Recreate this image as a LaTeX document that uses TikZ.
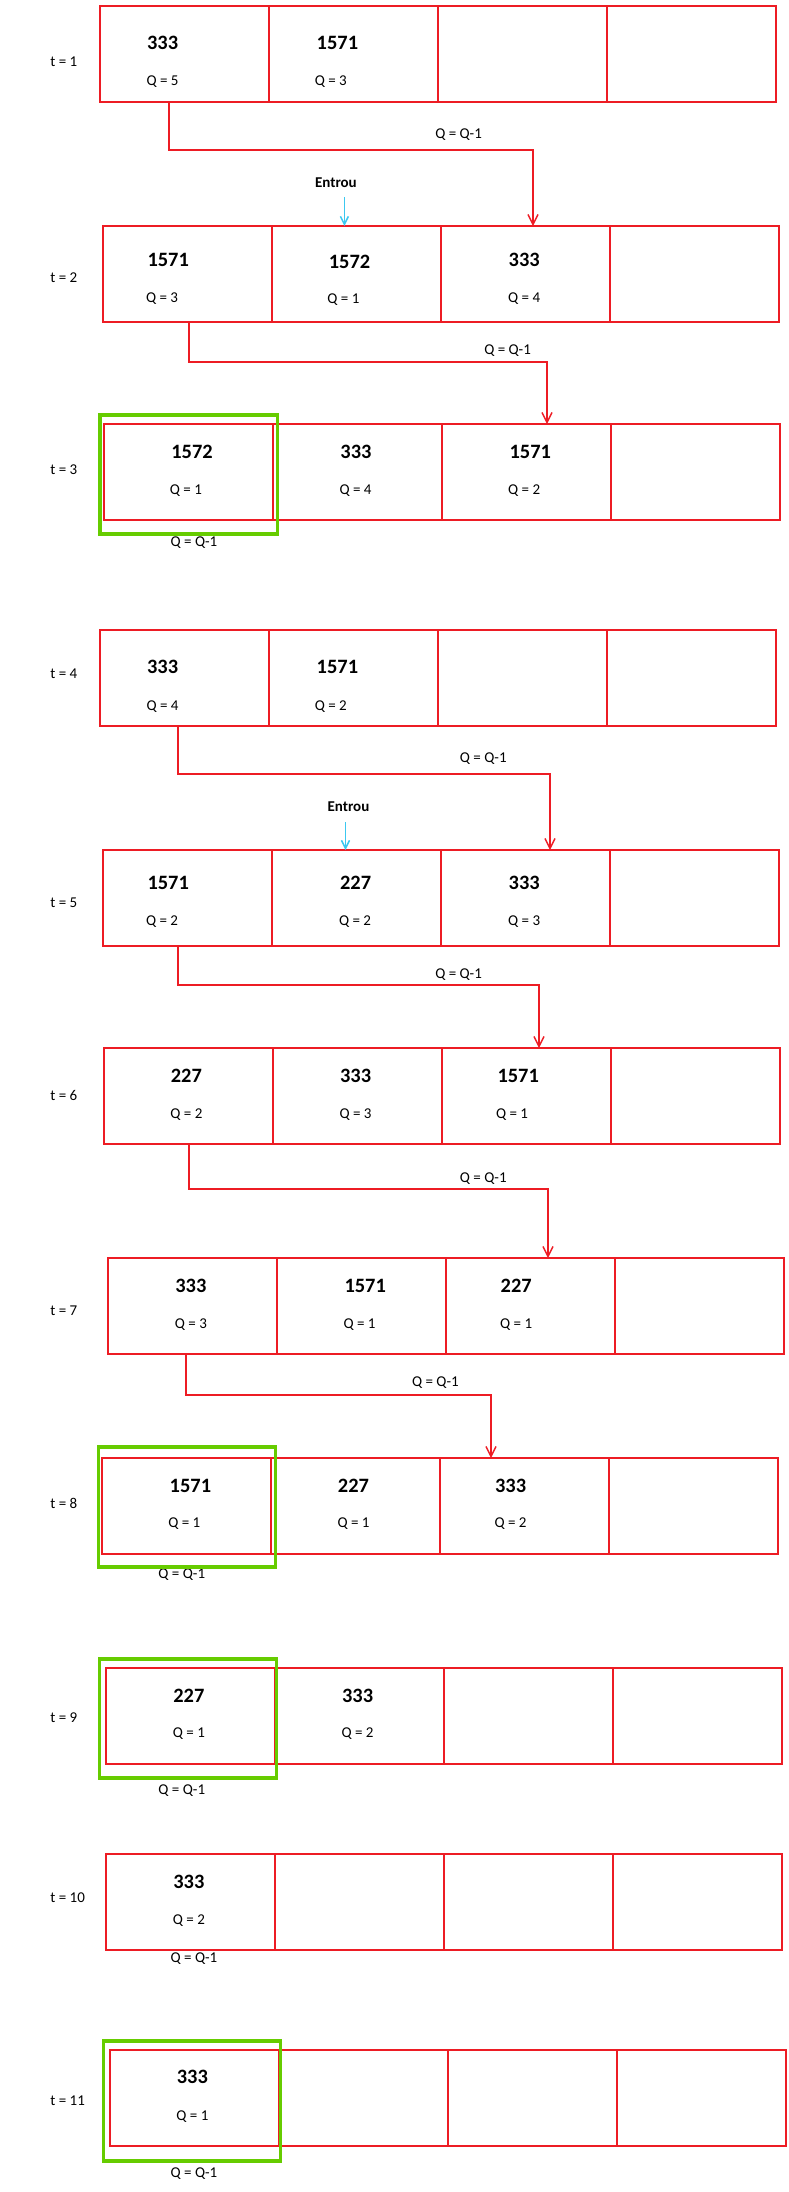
\documentclass[tikz,border=0pt]{standalone}
\usepackage{fontspec}
\setmainfont{Carlito}
\usepackage{tikz}
\usetikzlibrary{calc,arrows.meta}
\definecolor{vermelho}{RGB}{237,28,36}
\definecolor{verde}{RGB}{102,204,0}
\definecolor{azul}{RGB}{60,200,240}

\begin{document}
\begin{tikzpicture}[x=0.5pt,y=-0.5pt,
    celula/.style={draw=vermelho,line width=0.9pt,minimum width=84.5pt,minimum height=48pt,inner sep=0pt,outer sep=0pt},
    num/.style={font=\fontsize{10.2}{12}\selectfont\bfseries,inner sep=0pt},
    qval/.style={font=\fontsize{7.5}{9}\selectfont,inner sep=0pt},
    rotulo/.style={font=\fontsize{7.5}{9}\selectfont,inner sep=0pt,anchor=west},
    entrou/.style={font=\fontsize{7.5}{9}\selectfont\bfseries,inner sep=0pt},
    seta/.style={draw=vermelho,line width=0.7pt,-{Straight Barb[length=5pt,width=5pt]}},
    entra/.style={draw=azul,line width=0.75pt,-{Straight Barb[length=4pt,width=4pt]}},
    destaque/.style={draw=verde,line width=1.6pt}]
  \useasboundingbox (0,0) rectangle (788,2192);
  % filas: t, canto esquerdo, topo, altura do rotulo
  \foreach \l/\x/\y/\ty in {1/100/6/62, 2/103/226/278, 3/104/424/470, 4/100/630/674,
      5/103/850/903, 6/104/1048/1095, 7/108/1258/1311, 8/102/1458/1503,
      9/106/1668/1718, 10/106/1854/1898, 11/110/2050/2101}{
    \node[rotulo](t\l)at(50,\ty){t = \l};
    \foreach \c in {1,...,4}
      \node[celula](l\l-\c)at({\x+84.5+169*(\c-1)},{\y+48}){};
  }
  % processos
  \foreach \n/\x/\y/\v in {n1a/162.6/43/333, n1b/337.4/43/1571,
      n2a/168.2/260/1571, n2b/349.5/262/1572, n2c/524.2/260/333,
      n3a/192/452/1572, n3b/356/452/333, n3c/530.3/452/1571,
      n4a/162.6/667/333, n4b/337.4/667/1571,
      n5a/168.2/883/1571, n5b/355.6/883/227, n5c/524.2/883/333,
      n6a/186.4/1076/227, n6b/355.6/1076/333, n6c/518.2/1076/1571,
      n7a/190.9/1286/333, n7b/365.2/1286/1571, n7c/516.2/1286/227,
      n8a/190.4/1486/1571, n8b/353.5/1486/227, n8c/510.6/1486/333,
      n9a/188.9/1696/227, n9b/357.6/1696/333,
      n10a/188.9/1882/333, n11a/192.4/2077/333}
    \node[num](\n)at(\x,\y){\v};
  % quantum
  \foreach \n/\x/\y/\v in {q1a/162.6/82/5, q1b/330.8/82/3,
      q2a/162/299/3, q2b/343.4/300/1, q2c/524.2/299/4,
      q3a/185.9/491/1, q3b/355.6/491/4, q3c/524.2/491/2,
      q4a/162.6/707/4, q4b/330.8/707/2,
      q5a/162/922/2, q5b/355/922/2, q5c/524.2/922/3,
      q6a/186.4/1115/2, q6b/355.6/1115/3, q6c/512.1/1115/1,
      q7a/190.9/1325/3, q7b/359.6/1325/1, q7c/516.2/1325/1,
      q8a/184.3/1524/1, q8b/353.5/1524/1, q8c/510.6/1524/2,
      q9a/188.9/1734/1, q9b/357.6/1734/2,
      q10a/188.9/1921/2, q11a/192.4/2117/1}
    \node[qval](\n)at(\x,\y){Q = \v};
  \foreach \n/\x/\y in {d1/458.6/135, d2/507.6/351, d3/194/543, d4/483.3/759,
      d5/458.6/975, d6/483.3/1179, d7/435.4/1383, d8/181.8/1575,
      d9/181.8/1791, d10/194/1959, d11/194/2174}
    \node[qval](\n)at(\x,\y){Q = Q-1};
  \node[entrou](e2)at(335.9,183){Entrou};
  \node[entrou](e5)at(348.5,807){Entrou};
  % voltas para o fim da fila
  \draw[seta]($(l1-1.south)+(-15.5,0)$)--++(0,48)-|($(l2-3.north)+(7.5,0)$);
  \draw[seta]($(l2-1.south)+(1.5,0)$)--++(0,40)-|($(l3-3.north)+(20.5,0)$);
  \draw[seta]($(l4-1.south)+(-6.5,0)$)--++(0,48)-|($(l5-3.north)+(24.5,0)$);
  \draw[seta]($(l5-1.south)+(-9.5,0)$)--++(0,39)-|($(l6-3.north)+(12.5,0)$);
  \draw[seta]($(l6-1.south)+(0.5,0)$)--++(0,45)-|($(l7-3.north)+(17.5,0)$);
  \draw[seta]($(l7-1.south)+(-6.5,0)$)--++(0,41)-|($(l8-3.north)+(-33.5,0)$);
  \draw[entra]($(e2.center)+(8.5,14)$)--($(e2.center |- l2-2.north)+(8.5,0)$);
  \draw[entra]($(e5.center)+(-3,15)$)--($(e5.center |- l5-2.north)+(-3,0)$);
  % processos que terminam
  \draw[destaque](100,415)rectangle(277.3,534);
  \draw[destaque](98.5,1447)rectangle(275.8,1567);
  \draw[destaque](99.5,1659)rectangle(276.8,1778);
  \draw[destaque](103.5,2041)rectangle(280.8,2161);
\end{tikzpicture}
\end{document}
